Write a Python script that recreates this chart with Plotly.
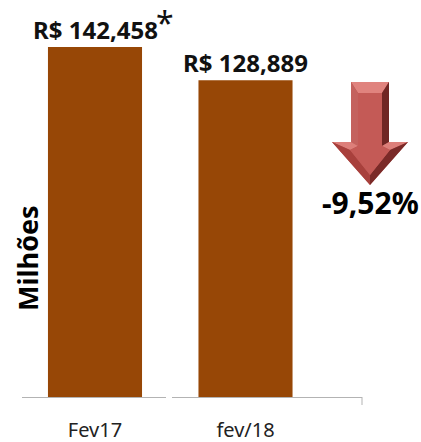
import plotly.graph_objects as go

categories = ["Fev17", "fev/18"]
values = [142.458, 128.889]
bar_labels = ["R$ 142,458", "R$ 128,889"]
axis_title = "Milhões"
change_label = "-9,52%"

W, H = 421, 442
L, R, T, B = 22, 362, 20, 397
FONT = "Noto Sans, Open Sans, sans-serif"
BAR = "#974706"
AXIS = "#B3B3B3"


def px(x):
    return x / W


def py(y):
    return 1 - y / H


def poly(points, color):
    path = "M " + " L ".join(f"{px(x):.5f},{py(y):.5f}" for x, y in points) + " Z"
    return dict(type="path", xref="paper", yref="paper", path=path,
                fillcolor=color, line=dict(width=0), layer="above")


def seg(x0, y0, x1, y1, color, width=1):
    return dict(type="line", xref="paper", yref="paper",
                x0=px(x0), y0=py(y0), x1=px(x1), y1=py(y1),
                line=dict(color=color, width=width), layer="above")


arrow = [
    poly([(351, 82), (389, 82), (389, 142), (408, 142), (370, 185), (332, 142), (351, 142)], "#B85450"),
    poly([(351, 82), (389, 82), (382, 93), (358, 93)], "#E0837E"),
    poly([(351, 82), (358, 93), (358, 146), (351, 142)], "#C4625E"),
    poly([(389, 82), (382, 93), (382, 146), (389, 142)], "#702624"),
    poly([(332, 142), (351, 142), (358, 146), (350, 150)], "#DD7F7A"),
    poly([(408, 142), (389, 142), (382, 146), (390, 150)], "#DD7F7A"),
    poly([(332, 142), (350, 150), (370, 175), (370, 185)], "#A8403C"),
    poly([(408, 142), (390, 150), (370, 175), (370, 185)], "#7A2A28"),
    poly([(358, 93), (382, 93), (382, 146), (390, 150), (370, 175), (350, 150), (358, 146)], "#C45A56"),
]

fig = go.Figure(go.Bar(
    x=[0, 1], y=values, width=0.625, marker=dict(color=BAR, line=dict(width=0)),
))

label_annotations = [
    dict(text=t, x=i, y=v, xref="x", yref="y", showarrow=False,
         xanchor="center", yanchor="bottom", yshift=-1,
         font=dict(family=FONT, size=24, color="#111111", weight="bold"))
    for i, (t, v) in enumerate(zip(bar_labels, values))
]

fig.update_layout(
    width=W, height=H, autosize=False,
    margin=dict(l=0, r=0, t=0, b=0, autoexpand=False),
    paper_bgcolor="white", plot_bgcolor="white",
    showlegend=False,
    xaxis=dict(domain=[px(L), px(R)], range=[-0.485, 1.774],
               tickmode="array", tickvals=[0, 1], ticktext=categories,
               tickfont=dict(family=FONT, size=20, color="#222222"),
               showline=True, linecolor=AXIS, linewidth=1, ticks="",
               ticklabelstandoff=15, showgrid=False, zeroline=False),
    yaxis=dict(domain=[py(B), py(T)], range=[0, 153.4], visible=False),
    shapes=arrow + [seg(166, B, 172, B, "white", 3), seg(R, B, R, 405, AXIS)],
    annotations=label_annotations + [
        dict(text=axis_title, xref="paper", yref="paper", x=px(27), y=py(258),
             textangle=-90, showarrow=False, xanchor="center", yanchor="middle",
             font=dict(family=FONT, size=27, color="#000000", weight="bold")),
        dict(text=change_label, xref="paper", yref="paper", x=px(370), y=py(203),
             showarrow=False, xanchor="center", yanchor="middle",
             font=dict(family=FONT, size=30, color="#000000", weight="bold")),
        dict(text="*", xref="paper", yref="paper", x=px(165), y=py(22),
             showarrow=False, xanchor="center", yanchor="middle",
             font=dict(family=FONT, size=32, color="#111111")),
    ],
)

fig.write_html("out.html", post_script="document.body.style.margin='0';",
               config={"displayModeBar": False})
